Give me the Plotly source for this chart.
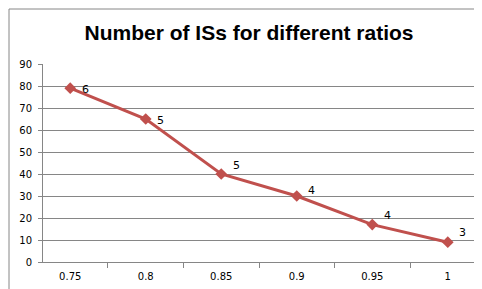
import plotly.graph_objects as go

categories = ["0.75", "0.8", "0.85", "0.9", "0.95", "1"]
values = [79, 65, 40, 30, 17, 9]
labels = ["6", "5", "5", "4", "4", "3"]
label_dy = [-1, -1, 9, 6, 9, 10]  # pixel offsets of data labels (style)

W, H = 482, 289
L, R, T, B = 35, 15, 56, 35
pw, ph = W - L - R, H - T - B

fig = go.Figure(go.Scatter(
    x=categories, y=values, mode="lines+markers",
    line=dict(color="#C0504D", width=3),
    marker=dict(symbol="diamond", size=9, color="#C0504D"),
    cliponaxis=False,
))

annotations = [
    dict(x=i, y=v, xref="x", yref="y", text=t, showarrow=False, xanchor="center", yanchor="middle",
         xshift=15, yshift=dy, font=dict(family="DejaVu Sans", size=11, color="#000000"))
    for i, (v, t, dy) in enumerate(zip(values, labels, label_dy))
]

fig.update_layout(
    width=W, height=H,
    margin=dict(l=L, r=R, t=T, b=B),
    paper_bgcolor="white", plot_bgcolor="white",
    showlegend=False,
    annotations=annotations,
    title=dict(text="<b>Number of ISs for different ratios</b>", x=0.5, xanchor="center",
               y=1 - 25 / H, yanchor="middle",
               font=dict(family="Liberation Sans", size=21, color="#000000")),
    xaxis=dict(type="category", showgrid=False, showline=True, linecolor="#868686", linewidth=1,
               ticks="outside", tickson="boundaries", ticklen=5, tickcolor="#868686",
               ticklabelstandoff=5,
               tickfont=dict(family="DejaVu Sans", size=10, color="#000000")),
    yaxis=dict(range=[0, 90], dtick=10, showgrid=True, gridcolor="#868686", gridwidth=1,
               showline=True, linecolor="#868686", linewidth=1, ticks="outside", ticklen=4,
               tickcolor="#868686", zeroline=False, ticklabelstandoff=4,
               tickfont=dict(family="DejaVu Sans", size=10, color="#000000")),
    shapes=[dict(type="rect", xref="paper", yref="paper",
                 x0=(-L + 1) / pw, x1=1 + (R - 1) / pw,
                 y0=(-B + 1) / ph, y1=1 + (T - 1) / ph,
                 line=dict(color="#868686", width=1), layer="below")],
)

fig.write_html("out.html")
